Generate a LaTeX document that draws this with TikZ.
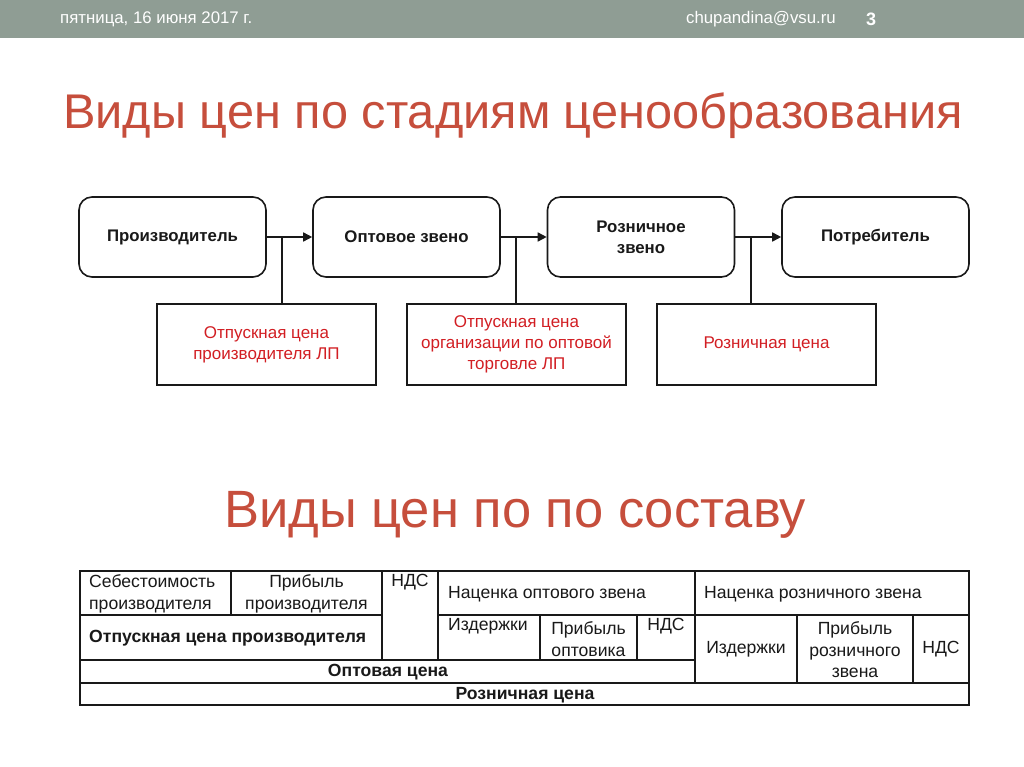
\documentclass[tikz,border=0pt]{standalone}
\usepackage{fontspec}
\setmainfont{Liberation Sans}
\usetikzlibrary{arrows.meta}
\definecolor{barcol}{RGB}{143,157,148}
\definecolor{titlered}{RGB}{198,78,60}
\definecolor{pricered}{RGB}{210,30,35}
\definecolor{ink}{RGB}{25,25,25}
\tikzset{
  flowbox/.style={draw=ink,line width=1.6pt,rounded corners=13pt,minimum width=187pt,minimum height=80pt,inner sep=0pt,align=center,font=\fontsize{16.8}{21}\selectfont\bfseries,text=ink},
  pricebox/.style={draw=ink,line width=1.3pt,minimum width=219pt,minimum height=81pt,inner sep=0pt,align=center,font=\fontsize{17}{21}\selectfont,text=pricered},
  arr/.style={line width=1.6pt,draw=ink,-{Triangle[length=9pt,width=9pt]}},
  link/.style={line width=1.6pt,draw=ink},
  grid/.style={line width=1.9pt,draw=ink},
  cell/.style={inner sep=0pt,font=\fontsize{17.6}{21.5}\selectfont,text=ink},
  bcell/.style={inner sep=0pt,font=\fontsize{17.6}{21.5}\selectfont\bfseries,text=ink},
  hdr/.style={inner sep=0pt,text=white,font=\fontsize{16.8}{18}\selectfont},
  title/.style={inner sep=0pt,text=titlered,font=\fontsize{48.7}{52}\selectfont}
}
\begin{document}
\begin{tikzpicture}[x=1pt,y=-1pt]
\useasboundingbox (0,0) rectangle (1024,767);
\fill[white] (0,0) rectangle (1024,767);
% header bar
\fill[barcol] (0,0) rectangle (1024,38);
\node[hdr,anchor=west] (date) at (60,19) {пятница, 16 июня 2017 г.};
\node[hdr,anchor=east] (mail) at (836,19) {chupandina@vsu.ru};
\node[hdr,anchor=center,font=\fontsize{18}{20}\selectfont\bfseries] (pg) at (871,19) {3};
% titles
\node[title,anchor=base] (t1) at (513,129) {Виды цен по стадиям ценообразования};
\node[title,anchor=base,font=\fontsize{52.5}{56}\selectfont] (t2) at (515,527) {Виды цен по по составу};
% flow
\node[flowbox] (prod) at (172.5,237) {Производитель};
\node[flowbox] (opt) at (406.5,237) {Оптовое звено};
\node[flowbox] (rozn) at (641,237) {Розничное\\звено};
\node[flowbox] (potr) at (875.5,237) {Потребитель};
\draw[arr] (prod.east) -- (opt.west);
\draw[arr] (opt.east) -- (rozn.west);
\draw[arr] (rozn.east) -- (potr.west);
\node[pricebox] (c1) at (266.5,344.5) {Отпускная цена\\производителя ЛП};
\node[pricebox] (c2) at (516.5,344.5) {Отпускная цена\\организации по оптовой\\торговле ЛП};
\node[pricebox] (c3) at (766.5,344.5) {Розничная цена};
\coordinate (j1) at (282,237);
\coordinate (j2) at (516,237);
\coordinate (j3) at (751,237);
\draw[link] (j1) -- (j1 |- c1.north);
\draw[link] (j2) -- (j2 |- c2.north);
\draw[link] (j3) -- (j3 |- c3.north);
% table grid
\draw[grid] (80,571) rectangle (969,705);
\draw[grid] (80,615) -- (382,615);
\draw[grid] (438,615) -- (969,615);
\draw[grid] (80,660) -- (695,660);
\draw[grid] (80,683) -- (969,683);
\draw[grid] (231,571) -- (231,615);
\draw[grid] (382,571) -- (382,660);
\draw[grid] (438,571) -- (438,660);
\draw[grid] (695,571) -- (695,683);
\draw[grid] (540,615) -- (540,660);
\draw[grid] (637,615) -- (637,660);
\draw[grid] (797,615) -- (797,683);
\draw[grid] (913,615) -- (913,683);
% table texts
\node[cell,anchor=west,align=left] (sebest) at (89,594) {Себестоимость\\производителя};
\node[cell,align=center] (pribprod) at (306.5,594) {Прибыль\\производителя};
\node[cell,anchor=north] (nds1) at (410,574) {НДС};
\node[cell,anchor=west] (nacopt) at (448,594) {Наценка оптового звена};
\node[cell,anchor=west] (nacrozn) at (704,594) {Наценка розничного звена};
\node[bcell,anchor=west] (otpusk) at (89,638) {Отпускная цена производителя};
\node[cell,anchor=north west] (izd1) at (448,618) {Издержки};
\node[cell,align=center] (priopt) at (588.5,639) {Прибыль\\оптовика};
\node[cell,anchor=north] (nds2) at (666,618) {НДС};
\node[cell] (izd2) at (746,649) {Издержки};
\node[cell,align=center] (prirozn) at (855,650) {Прибыль\\розничного\\звена};
\node[cell] (nds3) at (941,649) {НДС};
\node[bcell] (optcena) at (388,672.5) {Оптовая цена};
\node[bcell] (rozncena) at (525,695) {Розничная цена};
\end{tikzpicture}
\end{document}
